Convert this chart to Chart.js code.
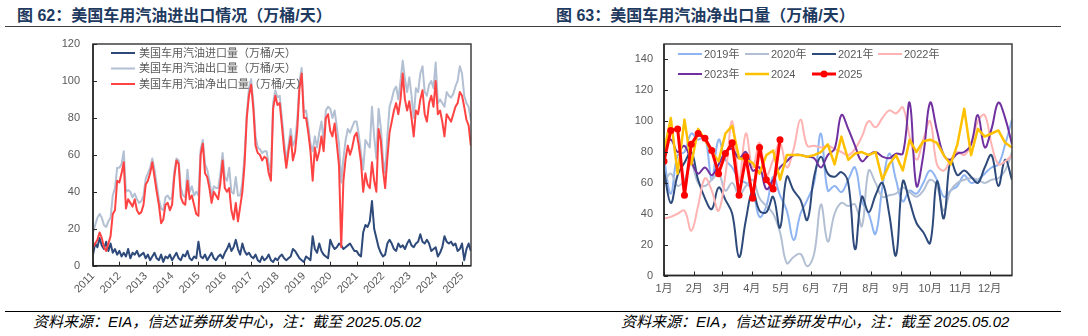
<!DOCTYPE html>
<html><head><meta charset="utf-8">
<script src="https://cdn.jsdelivr.net/npm/chart.js@4"></script>
<style>
html,body{margin:0;padding:0;background:#fff;}
body{width:1088px;height:336px;position:relative;overflow:hidden;font-family:'Liberation Sans','Noto Sans CJK SC',sans-serif;}
.title{position:absolute;top:6px;font-size:16px;font-weight:bold;color:#1f3a5f;white-space:nowrap;line-height:20px;}
.rule{position:absolute;height:0;}
.foot{position:absolute;top:313px;font-size:15px;font-style:italic;color:#000;white-space:nowrap;line-height:18px;}
canvas{position:absolute;}
</style></head>
<body>
<div class="title" style="left:17px">图 62：美国车用汽油进出口情况（万桶/天）</div>
<div class="title" style="left:556px">图 63：美国车用汽油净出口量（万桶/天）</div>
<div class="rule" style="left:5px;width:1056px;top:26px;border-top:1.5px solid #404040"></div>
<canvas id="c1" width="500" height="270" style="left:0;top:30px"></canvas>
<canvas id="c2" width="480" height="280" style="left:560px;top:30px"></canvas>
<div class="rule" style="left:5px;width:1056px;top:311px;border-top:1px solid #000"></div>
<div class="foot" style="left:33px">资料来源：EIA，信达证券研发中心，注：截至 2025.05.02</div>
<div class="foot" style="left:621px">资料来源：EIA，信达证券研发中心，注：截至 2025.05.02</div>
<script>
// ---------- Figure 62 data (monthly, Jan 2011 - May 2025), 万桶/天 ----------
const leftStartYear = 2011;
const importsVal = [
  6,12,10,15,11,9,13,8,12,7,9,6,        // 2011
  8,5,7,5,9,4,7,6,8,5,6,7,              // 2012
  4,6,3,5,7,4,3,6,2,5,4,6,              // 2013
  3,5,7,4,3,6,5,8,4,3,5,4,              // 2014
  13,5,4,6,3,5,7,4,3,5,6,4,             // 2015
  7,9,12,8,10,14,9,6,12,8,6,7,          // 2016
  5,4,6,3,2,5,3,4,6,3,2,4,              // 2017
  3,5,6,4,3,4,5,9,8,6,4,3,              // 2018
  2,5,4,3,16,9,7,12,8,6,5,4,            // 2019
  14,11,9,10,12,11,9,10,11,12,10,8,     // 2020
  8,6,5,18,22,21,24,35,20,15,10,7,      // 2021
  5,6,12,14,12,9,8,12,10,11,9,12,       // 2022
  14,11,10,12,13,17,13,12,14,12,8,9,    // 2023
  10,5,7,10,16,13,12,13,11,12,8,9,      // 2024
  12,3,9,12,8                           // 2025
];
const exportsVal = [
  18,22,26,28,26,22,21,24,26,38,42,53,
  53,55,62,40,41,40,37,39,36,34,35,38,
  47,50,53,58,52,44,36,31,30,37,38,36,
  37,51,58,57,42,38,37,52,40,43,38,40,
  38,63,68,55,52,46,38,43,42,42,50,61,
  48,46,53,40,39,48,38,38,45,60,82,96,
  101,88,70,64,63,61,62,62,55,50,88,95,
  91,92,80,67,57,65,74,65,68,79,100,107,
  83,84,76,66,62,70,64,72,78,68,84,86,
  85,80,84,75,66,45,58,68,74,72,75,78,
  78,71,61,52,68,66,64,86,70,58,85,75,
  58,50,70,86,90,95,97,90,100,111,101,94,
  102,92,80,96,94,104,108,94,92,98,100,96,
  110,88,90,88,86,94,92,91,93,97,100,108,
  104,92,88,86,79
];
const netVal = [
  10,12,14,18,15,10,8,12,16,28,30,46,
  45,50,56,31,36,34,32,36,30,28,29,33,
  44,46,50,56,48,40,33,23,25,33,34,30,
  33,48,57,55,37,34,33,46,36,38,33,28,
  27,60,66,50,48,42,34,40,38,36,45,57,
  42,40,42,30,25,34,24,32,40,55,80,92,
  98,85,65,61,60,57,59,58,50,46,85,92,
  87,88,76,63,53,62,70,57,62,74,96,104,
  80,80,72,62,46,64,57,62,70,62,80,82,
  73,70,77,66,54,10,46,58,65,60,64,70,
  72,65,56,40,50,44,42,56,46,40,74,68,
  52,42,58,72,78,84,88,82,90,104,90,84,
  89,80,70,84,82,90,95,82,78,88,92,86,
  100,82,84,78,70,82,80,78,82,86,88,94,
  92,86,79,76,65
];
const yearTicks = [2011,2012,2013,2014,2015,2016,2017,2018,2019,2020,2021,2022,2023,2024,2025];
const leftYTicks = [0,20,40,60,80,100,120];
const leftSeriesNames = ['美国车用汽油进口量（万桶/天）','美国车用汽油出口量（万桶/天）','美国车用汽油净出口量（万桶/天）'];

// ---------- Figure 63 data (weekly, week 1..52) ----------
const s2019 = [76,53,78,80,92,88,90,62,88,75,70,62,60,55,38,45,64,52,42,23,40,49,60,92,55,58,54,62,70,48,40,27,57,79,62,48,55,53,60,68,62,51,55,58,65,60,62,66,70,72,85,101];
const s2020 = [60,66,58,62,72,60,58,62,66,55,60,52,58,62,50,45,40,28,8,12,14,6,14,46,22,40,47,45,46,32,68,60,51,52,53,57,54,51,55,62,58,42,55,60,62,63,62,60,62,63,68,80];
const s2021 = [68,47,65,73,80,62,50,43,57,49,40,12,36,55,42,41,51,31,64,55,49,36,64,77,66,64,67,60,17,51,41,52,60,40,13,61,48,34,28,21,61,37,75,65,68,64,60,70,78,58,75,62];
const s2022 = [37,38,40,42,29,45,63,55,42,65,100,62,92,70,86,65,75,86,70,82,101,84,84,83,84,82,80,78,82,90,100,96,102,107,105,109,90,75,88,100,72,68,75,80,78,85,100,104,85,72,74,78];
const s2023 = [85,88,80,84,74,66,70,65,72,80,82,76,80,68,70,56,62,70,74,78,78,77,76,70,78,82,104,95,84,74,78,80,77,76,79,79,112,58,78,112,94,78,75,79,80,85,104,83,95,112,102,85];
const s2024 = [80,102,66,101,72,95,88,80,74,92,97,76,75,73,66,78,81,62,78,78,78,77,78,80,85,72,90,75,79,80,78,80,62,72,78,68,88,80,87,88,86,78,72,85,108,78,95,90,92,94,86,83];
const s2025 = [74,94,95,52,85,92,89,81,66,79,86,52,77,50,83,62,56,88];
const rightNames = ['2019年','2020年','2021年','2022年','2023年','2024','2025'];
const monthTickWeeks = [0,4.43,8.43,12.86,17.14,21.57,25.86,30.29,34.71,39,43.43,47.71];
const monthLabels = ['1月','2月','3月','4月','5月','6月','7月','8月','9月','10月','11月','12月'];
const rightYTicks = [0,20,40,60,80,100,120,140];

// ---------- helpers ----------
const FONT = "'Liberation Sans','Noto Sans CJK SC',sans-serif";
function monthlyXY(vals){ return vals.map((v,i)=>({x: leftStartYear + i/12, y: v})); }
function weeklyXY(vals){ return vals.map((v,i)=>({x: i, y: v})); }

const framePlugin = {
  id: 'frame',
  afterDatasetsDraw(chart, args, o){
    const {ctx, chartArea:a, scales} = chart;
    ctx.save();
    ctx.strokeStyle = o.boxColor; ctx.lineWidth = o.boxWidth;
    ctx.strokeRect(a.left, a.top, a.right-a.left, a.bottom-a.top);
    ctx.strokeStyle = o.axisColor; ctx.lineWidth = o.axisWidth;
    ctx.beginPath(); ctx.moveTo(a.left, a.top); ctx.lineTo(a.left, a.bottom); ctx.lineTo(a.right, a.bottom); ctx.stroke();
    ctx.lineWidth = 1;
    ctx.beginPath();
    scales.x.ticks.forEach(t=>{ const px = Math.round(scales.x.getPixelForValue(t.value))+0.5; ctx.moveTo(px, a.bottom); ctx.lineTo(px, a.bottom-o.tick); });
    scales.y.ticks.forEach(t=>{ const py = Math.round(scales.y.getPixelForValue(t.value))+0.5; ctx.moveTo(a.left, py); ctx.lineTo(a.left+o.tick, py); });
    ctx.stroke();
    ctx.restore();
  }
};
const legendPlugin = {
  id: 'fixedLegend',
  afterDraw(chart, args, o){
    const {ctx, chartArea:a} = chart;
    ctx.save();
    ctx.font = o.font; ctx.textBaseline = 'middle'; ctx.textAlign = 'left';
    o.items.forEach(it=>{
      const ds = chart.data.datasets[it.ds];
      const x = a.left + it.dx, y = a.top + it.dy;
      ctx.strokeStyle = ds.borderColor; ctx.lineWidth = ds.borderWidth; ctx.lineCap = 'butt';
      ctx.beginPath(); ctx.moveTo(x, y); ctx.lineTo(x + o.lineLen, y); ctx.stroke();
      if (ds.pointRadius) { ctx.fillStyle = ds.borderColor; ctx.beginPath(); ctx.arc(x + o.lineLen/2, y, ds.pointRadius, 0, Math.PI*2); ctx.fill(); }
      ctx.fillStyle = o.color; ctx.fillText(ds.label, x + o.lineLen + o.gap, y + 0.5);
    });
    ctx.restore();
  }
};

function axisTicks(arr){ return s => { s.ticks = arr.map(v=>({value:v})); }; }
function fixY(w){ return s => { s.width = w; s.paddingTop = 0; s.paddingBottom = 0; }; }
function fixX(h){ return s => { s.height = h; s.paddingLeft = 0; s.paddingRight = 0; }; }
const tickFont = {family: FONT, size: 11};

// ---------- Chart 62 ----------
new Chart(document.getElementById('c1'), {
  type: 'line',
  data: { datasets: [
    {label: leftSeriesNames[0], data: monthlyXY(importsVal), borderColor:'#2e4a7a', borderWidth:2, order:1},
    {label: leftSeriesNames[1], data: monthlyXY(exportsVal), borderColor:'#b3bfd2', borderWidth:2, order:2},
    {label: leftSeriesNames[2], data: monthlyXY(netVal), borderColor:'#ff4343', borderWidth:2, order:0}
  ]},
  options: {
    responsive:false, animation:false, devicePixelRatio:1,
    layout:{padding:{left:0, right:29, top:14, bottom:0}},
    elements:{point:{radius:0}, line:{tension:0, borderJoinStyle:'round'}},
    plugins:{
      legend:{display:false}, tooltip:{enabled:false},
      frame:{boxColor:'#404040', boxWidth:1.5, axisColor:'#262626', axisWidth:1.5, tick:4},
      fixedLegend:{font:'11px '+FONT, color:'#595959', lineLen:24, gap:4,
        items:[{ds:0,dx:18,dy:9},{ds:1,dx:18,dy:24.5},{ds:2,dx:18,dy:40}]}
    },
    scales:{
      x:{type:'linear', min:2011, max:2025.34,
        grid:{display:false, drawTicks:false}, border:{display:false},
        afterBuildTicks: axisTicks(yearTicks),
        afterFit: fixX(34.3),
        ticks:{autoSkip:false, minRotation:45, maxRotation:45, padding:4, color:'#595959', font:tickFont, callback:v=>String(v)}},
      y:{type:'linear', min:0, max:120,
        grid:{display:false, drawTicks:false}, border:{display:false},
        afterBuildTicks: axisTicks(leftYTicks),
        afterFit: fixY(93),
        ticks:{padding:13, color:'#595959', font:tickFont}}
    }
  },
  plugins:[framePlugin, legendPlugin]
});

// ---------- Chart 63 ----------
const rightSeries = [s2019,s2020,s2021,s2022,s2023,s2024,s2025];
const rightColors = ['#8fb4f2','#b3bfd2','#2e4a7a','#ffb3b3','#7030a0','#ffc000','#ff0000'];
const rightWidths = [2,2,2,2,2,2.5,3];
const rightTension = [0.4,0.4,0.4,0.4,0.4,0,0];
new Chart(document.getElementById('c2'), {
  type: 'line',
  data: { datasets: rightSeries.map((s,k)=>({
    label: rightNames[k], data: weeklyXY(s), borderColor: rightColors[k], borderWidth: rightWidths[k],
    tension: rightTension[k], order: 6-k,
    pointRadius: k===6 ? 3.5 : 0, pointBackgroundColor: rightColors[k], pointBorderWidth: 0
  }))},
  options: {
    responsive:false, animation:false, devicePixelRatio:1,
    layout:{padding:{left:0, right:28, top:14, bottom:0}},
    elements:{line:{borderJoinStyle:'round'}},
    plugins:{
      legend:{display:false}, tooltip:{enabled:false},
      frame:{boxColor:'#404040', boxWidth:1.5, axisColor:'#262626', axisWidth:1.5, tick:4},
      fixedLegend:{font:'11px '+FONT, color:'#595959', lineLen:24, gap:2,
        items:[{ds:0,dx:14,dy:10},{ds:1,dx:81,dy:10},{ds:2,dx:148,dy:10},{ds:3,dx:214,dy:10},
               {ds:4,dx:14,dy:30},{ds:5,dx:81,dy:30},{ds:6,dx:148,dy:30}]}
    },
    scales:{
      x:{type:'linear', min:0, max:51,
        grid:{display:false, drawTicks:false}, border:{display:false},
        afterBuildTicks: axisTicks(monthTickWeeks),
        afterFit: fixX(34.5),
        ticks:{autoSkip:false, maxRotation:0, minRotation:0, padding:7, color:'#595959', font:tickFont,
          callback: v => { const k = monthTickWeeks.indexOf(v); return k>=0 ? monthLabels[k] : ''; }}},
      y:{type:'linear', min:0, max:150,
        grid:{display:false, drawTicks:false}, border:{display:false},
        afterBuildTicks: axisTicks(rightYTicks),
        afterFit: fixY(104),
        ticks:{padding:11, color:'#595959', font:tickFont}}
    }
  },
  plugins:[framePlugin, legendPlugin]
});
</script>
</body></html>
